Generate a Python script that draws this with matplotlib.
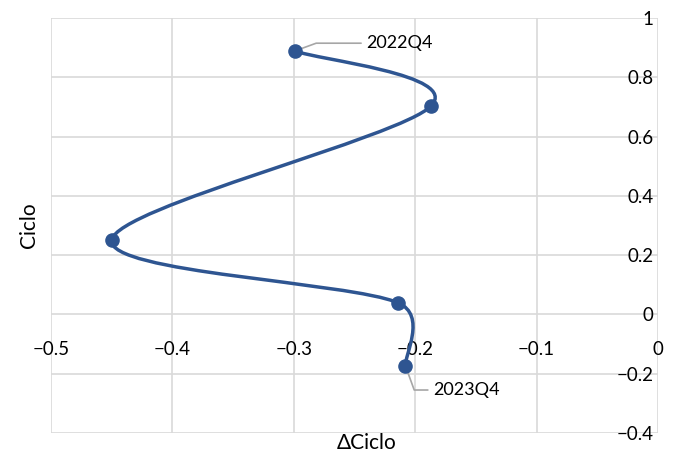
import numpy as np
import matplotlib.pyplot as plt
from matplotlib.path import Path
from matplotlib.patches import PathPatch

plt.rcParams['font.family'] = ['Lato', 'DejaVu Sans']

# Data
delta_ciclo = [-0.299, -0.187, -0.450, -0.214, -0.208]
ciclo = [0.889, 0.703, 0.251, 0.039, -0.174]
point_labels = ['2022Q4', '', '', '', '2023Q4']

x_ticks = [-0.5, -0.4, -0.3, -0.2, -0.1, 0]
y_ticks = [-0.4, -0.2, 0, 0.2, 0.4, 0.6, 0.8, 1]

line_color = '#2E5591'
grid_color = '#D9D9D9'

fig = plt.figure(figsize=(6.78, 4.58), dpi=100)
ax = fig.add_axes([0.0752, 0.0546, 0.8953, 0.9061])
ax.set_xlim(-0.5, 0)
ax.set_ylim(-0.4, 1)


def tangent(a, b, seg):
    # catmull-rom style handle, capped to half the segment length
    v = (b - a) / 6.0
    m = np.hypot(*v)
    if m > 0.5 * seg:
        v = v * (0.5 * seg / m)
    return v


# Smoothed line (Excel-like bezier), handles worked out in screen space
to_px = ax.transData
pts = to_px.transform(np.column_stack([delta_ciclo, ciclo]))
n = len(pts)
verts = [pts[0]]
codes = [Path.MOVETO]
for i in range(n - 1):
    p0 = pts[max(i - 1, 0)]
    p1 = pts[i]
    p2 = pts[i + 1]
    p3 = pts[min(i + 2, n - 1)]
    seg = np.hypot(*(p2 - p1))
    verts += [p1 + tangent(p0, p2, seg), p2 - tangent(p1, p3, seg), p2]
    codes += [Path.CURVE4] * 3
verts = to_px.inverted().transform(np.array(verts))
ax.add_patch(PathPatch(Path(verts, codes), facecolor='none',
                       edgecolor=line_color, lw=2.5, zorder=3))
ax.scatter(delta_ciclo, ciclo, s=90, color=line_color, zorder=4)

# Data labels with leader lines
ax.annotate(point_labels[0], xy=(delta_ciclo[0], ciclo[0]), xytext=(-0.24, 0.915),
            fontsize=13, va='center', ha='left',
            arrowprops=dict(arrowstyle='-', color='#A6A6A6', lw=1.2,
                            connectionstyle='angle,angleA=0,angleB=20,rad=0',
                            shrinkA=2, shrinkB=0))
ax.annotate(point_labels[4], xy=(delta_ciclo[4], ciclo[4]), xytext=(-0.185, -0.255),
            fontsize=13, va='center', ha='left',
            arrowprops=dict(arrowstyle='-', color='#A6A6A6', lw=1.2,
                            connectionstyle='angle,angleA=0,angleB=-70,rad=0',
                            shrinkA=2, shrinkB=0))

ax.set_xticks(x_ticks)
ax.set_yticks(y_ticks)
ax.set_xticklabels(['\u22120.5', '\u22120.4', '\u22120.3', '\u22120.2', '\u22120.1', '0'])
ax.set_yticklabels(['\u22120.4', '\u22120.2', '0', '0.2', '0.4', '0.6', '0.8', '1'])

ax.grid(True, color=grid_color, lw=1.2)
ax.set_axisbelow(True)
for s in ['top', 'right', 'bottom', 'left']:
    ax.spines[s].set_visible(False)
ax.spines['bottom'].set_position(('data', 0))
ax.spines['left'].set_position(('data', 0))
ax.tick_params(axis='both', length=0, labelsize=13.5, colors='#000000')
ax.tick_params(axis='x', pad=19)
ax.tick_params(axis='y', pad=3)
for lab in ax.get_yticklabels():
    lab.set_ha('right')

ax.set_xlabel('\u0394Ciclo', fontsize=15)
ax.xaxis.set_label_coords(0.52, 0.0)
ax.xaxis.label.set_va('top')
ax.set_ylabel('Ciclo', fontsize=15)
ax.yaxis.set_label_coords(-0.02, 0.5)

fig.savefig('out.png', dpi=100)
